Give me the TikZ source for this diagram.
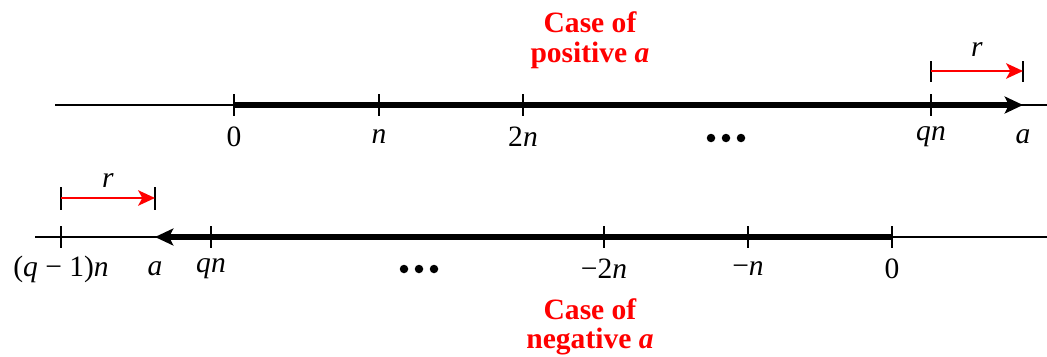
\documentclass[tikz,border=0pt]{standalone}
\usepackage{fontspec}
\setmainfont{Liberation Serif}
\usetikzlibrary{arrows.meta}
\newcommand{\vi}[1]{\textit{#1}}
\tikzset{
  tick/.style={line width=1.3pt},
  axis/.style={line width=1.2pt},
  heavy/.style={line width=4.2pt},
  lab/.style={font=\fontsize{21}{24}\selectfont, inner sep=1pt},
  title/.style={font=\fontsize{21}{21}\selectfont\bfseries, text=red, align=center, inner sep=0pt},
  rarrow/.style={red, line width=1.4pt, -{Stealth[length=12pt,width=11pt,inset=3pt]}},
  dot/.style={circle, fill, inner sep=0pt, minimum size=8.5*0.025cm}
}
\begin{document}
\begin{tikzpicture}[x=0.025cm,y=-0.025cm]
\useasboundingbox (0,0) rectangle (1047,356);
% positive case
\node[title] (tpos) at (590,40) {Case of\\positive \vi{a}};
\coordinate (pl) at (55,105);
\coordinate (pr) at (1047,105);
\draw[axis] (pl) -- (pr);
\coordinate (p0) at (234,105);
\coordinate (pa) at (1023,105);
\draw[heavy, -{Stealth[length=13pt,width=12pt,inset=3pt]}] (p0) -- (pa);
\foreach \x/\name/\txt in {234/p0/0, 379/p1/\vi{n}, 523/p2/2\vi{n}, 931/pq/\vi{qn}}{
  \draw[tick] (\x,94) -- (\x,116);
  \node[lab] (l\name) at (\x,137) {\txt};
}
\node[lab] (lpa) at (1023,137) {\vi{a}};
\foreach \x in {711,726,741}
  \node[dot] at (\x,138) {};
% r above positive line
\coordinate (prl) at (931,71);
\coordinate (prr) at (1023,71);
\draw[tick] (931,61) -- (931,82);
\draw[tick] (1023,61) -- (1023,82);
\draw[rarrow] (prl) -- (prr);
\node[lab] (prlab) at (977,50) {\vi{r}};
% negative case
\coordinate (nl) at (35,237);
\coordinate (nr) at (1047,237);
\draw[axis] (nl) -- (nr);
\coordinate (n0) at (892,237);
\coordinate (na) at (155,237);
\draw[heavy, -{Stealth[length=13pt,width=12pt,inset=3pt]}] (n0) -- (na);
\foreach \x/\name/\txt in {61/nq1/(\vi{q} − 1)\vi{n}, 211/nq/\vi{qn}, 604/n2/−2\vi{n}, 748/n1/−\vi{n}, 892/n0/0}{
  \draw[tick] (\x,226) -- (\x,248);
  \node[lab] (l\name) at (\x,269) {\txt};
}
\node[lab] (lna) at (155,269) {\vi{a}};
\foreach \x in {404,419,434}
  \node[dot] at (\x,269) {};
% r above negative line
\coordinate (nrl) at (61,198);
\coordinate (nrr) at (155,198);
\draw[tick] (61,187) -- (61,210);
\draw[tick] (155,187) -- (155,210);
\draw[rarrow] (nrl) -- (nrr);
\node[lab] (nrlab) at (108,181) {\vi{r}};
\node[title] (tneg) at (590,327) {Case of\\negative \vi{a}};
\end{tikzpicture}
\end{document}
